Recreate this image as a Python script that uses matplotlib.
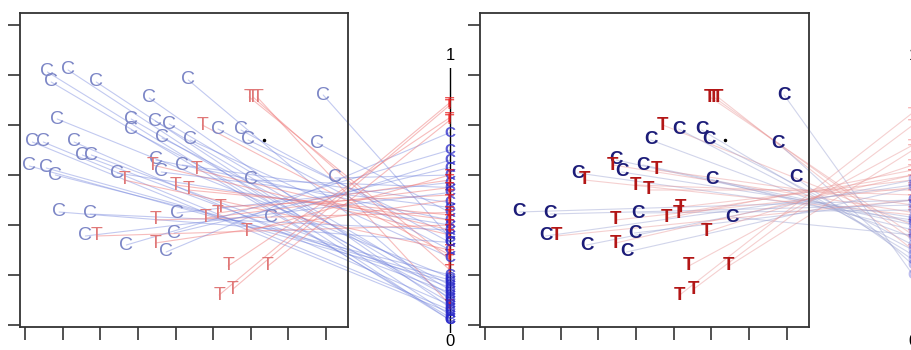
import matplotlib
matplotlib.use('Agg')
import matplotlib.pyplot as plt
from matplotlib.patches import ConnectionPatch

plt.rcParams['font.family'] = ['Liberation Sans', 'DejaVu Sans']

# ---------------- data ----------------
# covariate positions (x, y) of each unit, its group and its propensity score
x = [1.59, 1.69, 2.14, 2.89, 5.34, 4.30, 6.96, 7.06, 7.17, 8.93,
     1.85, 3.82, 3.82, 4.46, 4.83, 5.71, 6.13, 6.74, 6.93, 4.64,
     5.39, 8.77, 1.19, 1.48, 2.30, 2.52, 2.76, 1.11, 1.56, 1.80,
     3.45, 3.63, 4.48, 4.38, 4.62, 5.18, 5.55, 4.99, 5.34, 7.01,
     9.24, 1.90, 2.73, 5.04, 4.46, 5.81, 6.13, 6.19, 7.54, 2.60,
     2.89, 4.96, 6.88, 3.69, 4.46, 4.75, 6.40, 7.46, 6.16, 6.53]
y = [5.06, 4.86, 5.10, 4.86, 4.90, 4.54, 4.56, 4.56, 4.56, 4.60,
     4.12, 4.12, 3.90, 4.08, 4.02, 4.00, 3.92, 3.90, 3.70, 3.74,
     3.70, 3.64, 3.66, 3.66, 3.66, 3.40, 3.40, 3.18, 3.14, 3.00,
     3.04, 2.90, 3.30, 3.20, 3.06, 3.20, 3.10, 2.80, 2.70, 2.90,
     2.94, 2.26, 2.22, 2.24, 2.10, 2.14, 2.24, 2.36, 2.16, 1.78,
     1.78, 1.84, 1.86, 1.60, 1.64, 1.46, 1.18, 1.18, 0.60, 0.72]
group = ['C', 'C', 'C', 'C', 'C', 'C', 'T', 'T', 'T', 'C',
         'C', 'C', 'C', 'C', 'C', 'T', 'C', 'C', 'C', 'C',
         'C', 'C', 'C', 'C', 'C', 'C', 'C', 'C', 'C', 'C',
         'C', 'T', 'C', 'T', 'C', 'C', 'T', 'T', 'T', 'C',
         'C', 'C', 'C', 'C', 'T', 'T', 'T', 'T', 'C', 'C',
         'T', 'C', 'T', 'C', 'T', 'C', 'T', 'T', 'T', 'T']
pscore = [0.02, 0.03, 0.02, 0.04, 0.10, 0.07, 0.26, 0.22, 0.08, 0.35,
          0.19, 0.09, 0.11, 0.12, 0.14, 0.28, 0.30, 0.33, 0.36, 0.16,
          0.27, 0.45, 0.05, 0.06, 0.08, 0.13, 0.15, 0.17, 0.18, 0.20,
          0.40, 0.30, 0.42, 0.36, 0.47, 0.49, 0.38, 0.42, 0.44, 0.55,
          0.60, 0.33, 0.38, 0.57, 0.45, 0.55, 0.58, 0.52, 0.66, 0.53,
          0.40, 0.63, 0.60, 0.70, 0.50, 0.77, 0.83, 0.82, 0.89, 0.88]
# re-estimated score in the matched sample (None = unit not matched)
mscore = [None, None, None, None, None, None, 0.36, 0.34, 0.30, 0.20,
          None, None, None, None, None, 0.40, 0.30, 0.28, 0.32, None,
          0.35, 0.24, None, None, None, None, None, None, None, None,
          0.42, 0.44, 0.40, 0.45, 0.43, 0.41, 0.48, 0.52, 0.54, 0.38,
          0.26, 0.50, 0.48, 0.46, 0.55, 0.62, 0.60, 0.58, 0.36, 0.56,
          0.50, 0.50, 0.64, 0.58, 0.60, 0.55, 0.72, 0.70, 0.85, 0.80]
dot_x = [7.36]
dot_y = [3.70]

# ---------------- layout ----------------
W, H = 912, 350
fig = plt.figure(figsize=(W / 100, H / 100), dpi=100)


def box(l, t, r, b):
    return [l / W, (H - b) / H, (r - l) / W, (b - t) / H]


ax1 = fig.add_axes(box(20, 13, 348, 327))
ax2 = fig.add_axes(box(480, 13, 809, 327))
axm = fig.add_axes(box(440, 67.5, 460, 332.5))
axr = fig.add_axes(box(903, 67.5, 923, 332.5))

for ax in (ax1, ax2):
    ax.set_xlim(0.86, 9.59)
    ax.set_ylim(-0.04, 6.24)
    ax.set_xticks(range(1, 10))
    ax.set_yticks(range(0, 7))
    ax.set_xticklabels([])
    ax.set_yticklabels([])
    ax.tick_params(direction='out', length=9, width=1.2, color='#333333')
    for s in ax.spines.values():
        s.set_color('#333333')
        s.set_linewidth(1.3)
    ax.set_facecolor('none')

for ax in (axm, axr):
    ax.set_xlim(-1, 1)
    ax.set_ylim(-0.03, 1.03)
    ax.axis('off')
    ax.axvline(0, color='black', lw=1.0, zorder=1)
    ax.annotate('1', xy=(0, 1), xycoords=('data', 'axes fraction'),
                xytext=(0, 3), textcoords='offset points',
                ha='center', va='bottom', fontsize=12, annotation_clip=False)
    ax.annotate('0', xy=(0, 0), xycoords=('data', 'axes fraction'),
                xytext=(0, -1), textcoords='offset points',
                ha='center', va='top', fontsize=12, annotation_clip=False)

left_col = {'C': '#7c86c6', 'T': '#e07878'}
right_col = {'C': '#1c1c78', 'T': '#b31616'}
mid_col = {'C': '#2626c8', 'T': '#e81c1c'}
line_left = {'C': ('#6f80dc', 0.42), 'T': ('#ef7a7a', 0.5)}
line_right = {'C': ('#9aa2d2', 0.45), 'T': ('#e89090', 0.42)}

# left panel: all units, lines to the propensity axis
for xi, yi, g, p in zip(x, y, group, pscore):
    c, a = line_left[g]
    con = ConnectionPatch(xyA=(xi, yi), coordsA=ax1.transData,
                          xyB=(0, p), coordsB=axm.transData,
                          color=c, alpha=a, lw=0.8, zorder=1, clip_on=False)
    ax1.add_artist(con)
    ax1.text(xi, yi, g, color=left_col[g], fontsize=14, ha='center',
             va='center', zorder=3)
    axm.text(0, p, g, color=mid_col[g], alpha=0.75, fontsize=11,
             fontweight='bold', ha='center', va='center', zorder=3,
             clip_on=False)

# right panel: matched units only
for xi, yi, g, q in zip(x, y, group, mscore):
    if q is None:
        continue
    c, a = line_right[g]
    con = ConnectionPatch(xyA=(xi, yi), coordsA=ax2.transData,
                          xyB=(0, q), coordsB=axr.transData,
                          color=c, alpha=a, lw=0.8, zorder=1, clip_on=False)
    ax2.add_artist(con)
    ax2.text(xi, yi, g, color=right_col[g], fontsize=13.5, fontweight='bold',
             ha='center', va='center', zorder=3)
    axr.text(0, q, g, color=mid_col[g], alpha=0.3, fontsize=11,
             fontweight='bold', ha='center', va='center', zorder=3,
             clip_on=False)

ax1.plot(dot_x, dot_y, 'k.', ms=3, zorder=4)
ax2.plot(dot_x, dot_y, 'k.', ms=3, zorder=4)

fig.savefig('out.png', dpi=100)
